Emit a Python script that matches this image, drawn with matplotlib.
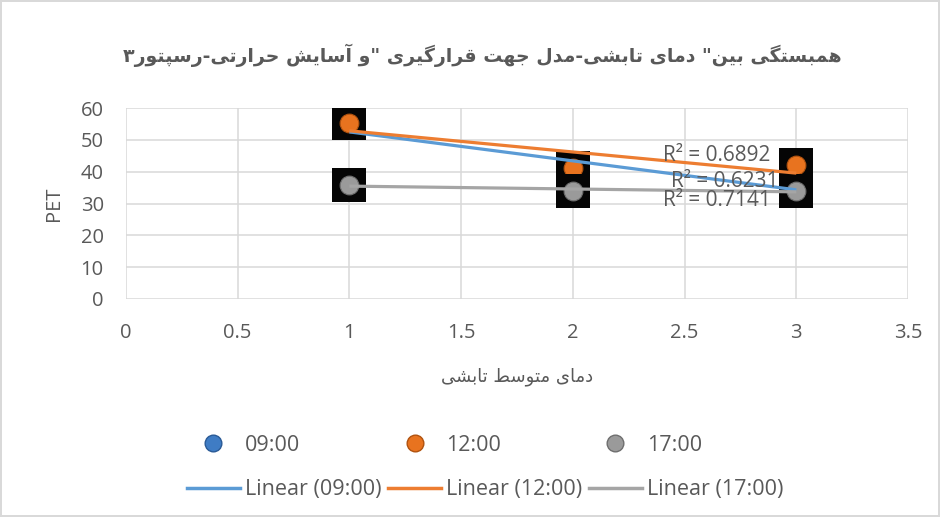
import matplotlib
matplotlib.use("Agg")
import matplotlib.pyplot as plt
from matplotlib.lines import Line2D
import numpy as np

# ---- data ----
x_vals = [1, 2, 3]
pet_0900 = [56.6, 35.2, 38.4]
pet_1200 = [55.4, 41.1, 42.1]
pet_1700 = [35.8, 33.9, 34.0]
series_names = ["09:00", "12:00", "17:00"]
r2_labels = ["R² = 0.6892", "R² = 0.6231", "R² = 0.7141"]  # 12:00, 09:00, 17:00

title_fa = 'همبستگی بین" دمای تابشی-مدل جهت قرارگیری "و آسایش حرارتی-رسپتور۳'
xlabel_fa = "دمای متوسط تابشی"

# ---- tiny persian shaper (matplotlib has no arabic shaping) ----
# letter: (isolated, final, initial, medial); None = does not join to the next letter
FORMS = {
    'ا': (0xFE8D, 0xFE8E, None, None), 'آ': (0xFE81, 0xFE82, None, None),
    'ب': (0xFE8F, 0xFE90, 0xFE91, 0xFE92), 'پ': (0xFB56, 0xFB57, 0xFB58, 0xFB59),
    'ت': (0xFE95, 0xFE96, 0xFE97, 0xFE98), 'ث': (0xFE99, 0xFE9A, 0xFE9B, 0xFE9C),
    'ج': (0xFE9D, 0xFE9E, 0xFE9F, 0xFEA0), 'چ': (0xFB7A, 0xFB7B, 0xFB7C, 0xFB7D),
    'ح': (0xFEA1, 0xFEA2, 0xFEA3, 0xFEA4), 'خ': (0xFEA5, 0xFEA6, 0xFEA7, 0xFEA8),
    'د': (0xFEA9, 0xFEAA, None, None), 'ذ': (0xFEAB, 0xFEAC, None, None),
    'ر': (0xFEAD, 0xFEAE, None, None), 'ز': (0xFEAF, 0xFEB0, None, None),
    'ژ': (0xFB8A, 0xFB8B, None, None),
    'س': (0xFEB1, 0xFEB2, 0xFEB3, 0xFEB4), 'ش': (0xFEB5, 0xFEB6, 0xFEB7, 0xFEB8),
    'ص': (0xFEB9, 0xFEBA, 0xFEBB, 0xFEBC), 'ض': (0xFEBD, 0xFEBE, 0xFEBF, 0xFEC0),
    'ط': (0xFEC1, 0xFEC2, 0xFEC3, 0xFEC4), 'ظ': (0xFEC5, 0xFEC6, 0xFEC7, 0xFEC8),
    'ع': (0xFEC9, 0xFECA, 0xFECB, 0xFECC), 'غ': (0xFECD, 0xFECE, 0xFECF, 0xFED0),
    'ف': (0xFED1, 0xFED2, 0xFED3, 0xFED4), 'ق': (0xFED5, 0xFED6, 0xFED7, 0xFED8),
    'ک': (0xFB8E, 0xFB8F, 0xFB90, 0xFB91), 'گ': (0xFB92, 0xFB93, 0xFB94, 0xFB95),
    'ل': (0xFEDD, 0xFEDE, 0xFEDF, 0xFEE0), 'م': (0xFEE1, 0xFEE2, 0xFEE3, 0xFEE4),
    'ن': (0xFEE5, 0xFEE6, 0xFEE7, 0xFEE8), 'و': (0xFEED, 0xFEEE, None, None),
    'ه': (0xFEE9, 0xFEEA, 0xFEEB, 0xFEEC), 'ی': (0xFBFC, 0xFBFD, 0xFBFE, 0xFBFF),
}


def fa(text):
    out = []
    for i, c in enumerate(text):
        if c not in FORMS:
            out.append(c)
            continue
        prev = text[i - 1] if i > 0 else ''
        nxt = text[i + 1] if i + 1 < len(text) else ''
        join_prev = prev in FORMS and FORMS[prev][2] is not None
        join_next = FORMS[c][2] is not None and nxt in FORMS
        f = FORMS[c]
        if join_prev and join_next:
            code = f[3]
        elif join_prev:
            code = f[1]
        elif join_next:
            code = f[2]
        else:
            code = f[0]
        out.append(chr(code))
    return ''.join(reversed(out))


# ---- style ----
plt.rcParams['font.family'] = ['Open Sans', 'DejaVu Sans']
txt = '#595959'
grid_c = '#d9d9d9'
dot_colors = ['#3f7cc4', '#e8731f', '#9a9a9a']
dot_edges = ['#2a5a96', '#b0520f', '#6e6e6e']
line_colors = ['#5b9bd5', '#ed7d31', '#a5a5a5']

fig = plt.figure(figsize=(9.4, 5.17), dpi=100)
fig.patch.set_edgecolor(grid_c)
fig.patch.set_linewidth(1.5)
ax = fig.add_axes([0.134, 0.4217, 0.832, 0.3693])

series = [pet_0900, pet_1200, pet_1700]
for i, ys in enumerate(series):
    ax.scatter(x_vals, ys, marker='s', s=33 ** 2 * 0.54, color='#050505',
               zorder=3 + 2 * i, linewidths=0)
    ax.scatter(x_vals, ys, marker='o', s=13.5 ** 2, color=dot_colors[i],
               edgecolors=dot_edges[i], linewidths=0.8, zorder=4 + 2 * i)

# linear trend lines
for i, ys in enumerate(series):
    k, b = np.polyfit(x_vals, ys, 1)
    xs = np.array([min(x_vals), max(x_vals)])
    ax.plot(xs, k * xs + b, color=line_colors[i], lw=2.3, zorder=12,
            solid_capstyle='butt')

# R² labels
for lab, xx, yy in zip(r2_labels, [2.645, 2.68, 2.645], [45.2, 36.8, 31.1]):
    ax.text(xx, yy, lab, ha='center', va='center', fontsize=15,
            color=txt, zorder=14)

ax.set_xlim(0, 3.5)
ax.set_ylim(0, 60)
ax.set_xticks(np.arange(0, 3.51, 0.5))
ax.set_xticklabels(['0', '0.5', '1', '1.5', '2', '2.5', '3', '3.5'])
ax.set_yticks(np.arange(0, 61, 10))
ax.grid(True, color=grid_c, lw=1.1)
ax.set_axisbelow(True)
for s in ax.spines.values():
    s.set_visible(False)
ax.tick_params(length=0, labelsize=14.5, labelcolor=txt)
ax.tick_params(axis='y', pad=16)
ax.tick_params(axis='x', pad=17)

ax.set_ylabel('PET', fontsize=14.5, color=txt, labelpad=12)
ax.set_xlabel(fa(xlabel_fa), fontsize=13, color=txt, labelpad=18,
              family=['DejaVu Sans'])
fig.text(0.513, 0.893, fa(title_fa), ha='center', va='center', fontsize=13.6,
         color=txt, fontweight='bold', family=['DejaVu Sans'])

handles = []
for i, name in enumerate(series_names):
    handles.append(Line2D([], [], marker='o', ls='none', markersize=12,
                          color=dot_colors[i], markeredgecolor=dot_edges[i],
                          label=name))
    handles.append(Line2D([], [], color=line_colors[i], lw=2.5,
                          label='Linear ({})'.format(name)))
fig.legend(handles=handles, loc='center', bbox_to_anchor=(0.516, 0.0957),
           ncol=3, frameon=False, fontsize=15.5, labelcolor=txt,
           handlelength=2.45, handletextpad=0.23, columnspacing=0.33,
           labelspacing=1.1, borderpad=0)

fig.savefig('out.png', dpi=100)
